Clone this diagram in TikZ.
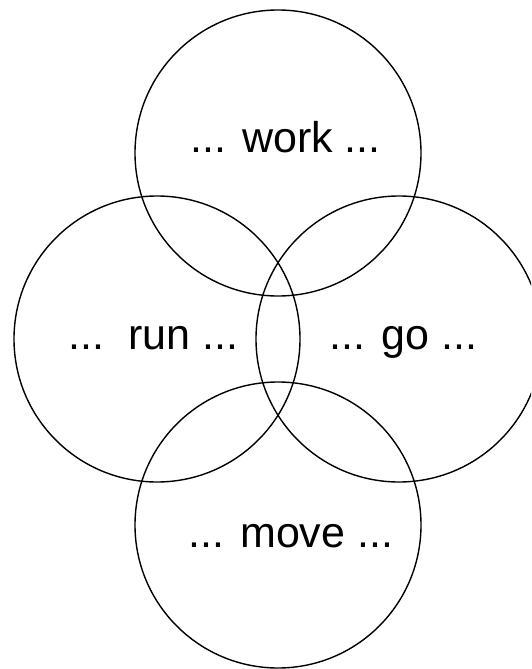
\documentclass[tikz,border=0pt]{standalone}
\usepackage{fontspec}
\setmainfont{Liberation Sans}
\begin{document}
\begin{tikzpicture}[x=1pt,y=-1pt,
  ring/.style={circle,draw=black,line width=1.4pt,minimum size=286pt,inner sep=0pt,outer sep=0pt},
  word/.style={anchor=base,inner sep=0pt,font=\fontsize{43}{50}\selectfont}]
\useasboundingbox (0,0) rectangle (531,669);
\clip (0,0) rectangle (531,669);
\node[ring] (ctop) at (278,153) {};
\node[ring] (cleft) at (157,339) {};
\node[ring] (cright) at (399,339) {};
\node[ring] (cbottom) at (278,525) {};
\node[word] (twork) at (285.5,152.7) {... work ...};
\node[word] (trun) at (153.3,349.3) {...\ \ run ...};
\node[word] (tgo) at (403.3,349.3) {... go ...};
\node[word] (tmove) at (290.8,547) {... move ...};
\end{tikzpicture}
\end{document}
